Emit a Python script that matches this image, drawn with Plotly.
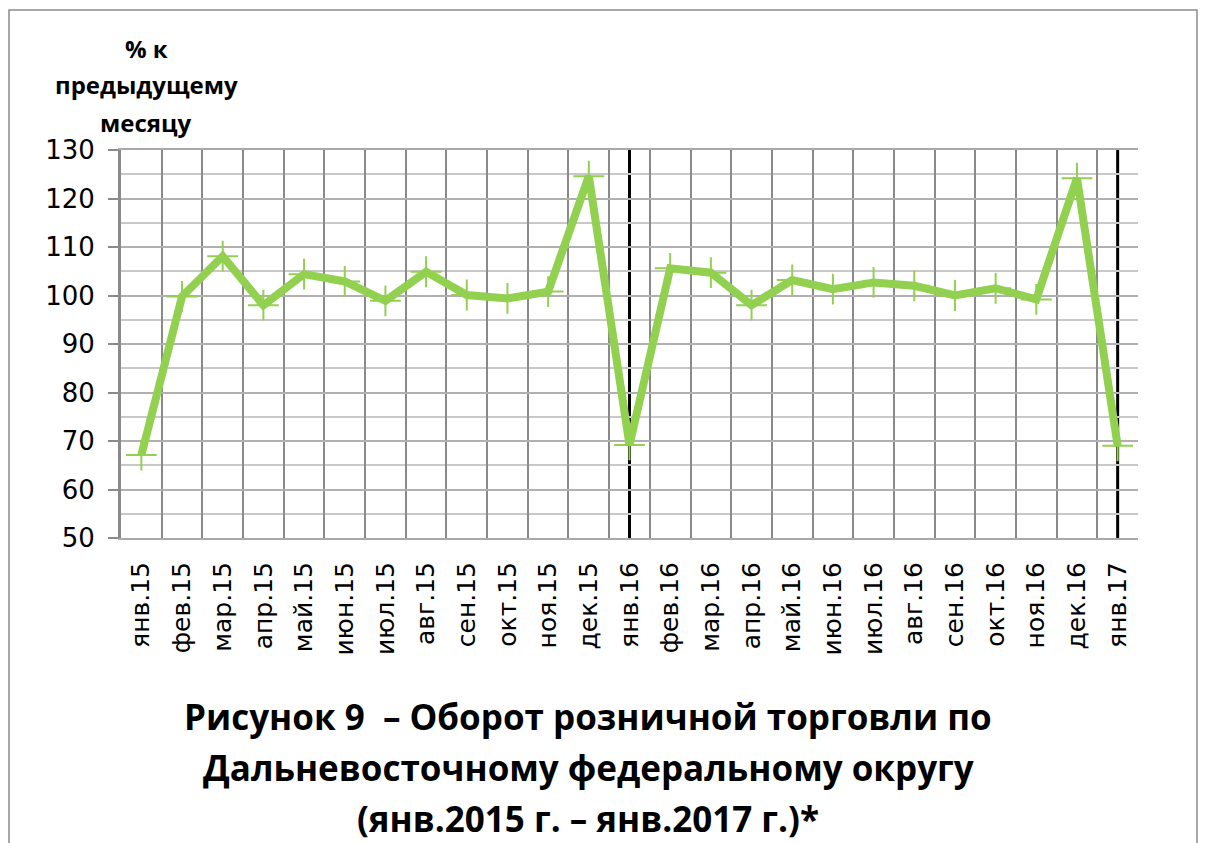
import plotly.graph_objects as go

categories = ["янв.15", "фев.15", "мар.15", "апр.15", "май.15", "июн.15", "июл.15",
              "авг.15", "сен.15", "окт.15", "ноя.15", "дек.15", "янв.16", "фев.16",
              "мар.16", "апр.16", "май.16", "июн.16", "июл.16", "авг.16", "сен.16",
              "окт.16", "ноя.16", "дек.16", "янв.17"]
values = [67.1, 99.8, 108.1, 98.0, 104.4, 102.9, 98.9, 104.9, 100.1, 99.4, 100.8,
          124.6, 69.2, 105.6, 104.7, 98.0, 103.2, 101.3, 102.7, 102.0, 100.0, 101.5,
          99.2, 124.2, 69.0]
year_marks = ["янв.16", "янв.17"]
y_title_lines = ["% к", "предыдущему", "месяцу"]
caption_lines = ["Рисунок 9  – Оборот розничной торговли по",
                 "Дальневосточному федеральному округу",
                 "(янв.2015 г. – янв.2017 г.)*"]

GREEN = "#92D050"
L, R, T, B = 121, 1138, 150, 538
W, H = 1208, 843


def px_x(px):
    return (px - L) / (R - L)


def px_y(py):
    return (B - py) / (B - T)


fig = go.Figure()
fig.add_trace(go.Scatter(
    x=categories, y=values, mode="lines+markers",
    line=dict(color=GREEN, width=8),
    marker=dict(symbol="cross-thin", size=22, color=GREEN,
                line=dict(color=GREEN, width=2)),
    cliponaxis=False, showlegend=False))

shapes = []
for m in year_marks:
    idx = categories.index(m)
    shapes.append(dict(type="line", xref="x", yref="paper", x0=idx, x1=idx,
                       y0=0, y1=1, line=dict(color="black", width=3), layer="below"))
# outer border
shapes.append(dict(type="rect", xref="paper", yref="paper",
                   x0=px_x(9), x1=px_x(1197), y0=px_y(850), y1=px_y(10),
                   line=dict(color="#8c8c8c", width=1.5), layer="below"))

annotations = []
for i, t in enumerate(y_title_lines):
    annotations.append(dict(text="<b>" + t + "</b>", xref="paper", yref="paper",
                            x=px_x(146), y=px_y(48 + i * 37), showarrow=False,
                            xanchor="center", yanchor="middle",
                            font=dict(family="Open Sans", size=24, color="black")))
for i, t in enumerate(caption_lines):
    annotations.append(dict(text="<b>" + t + "</b>", xref="paper", yref="paper",
                            x=px_x(588), y=px_y(716 + i * 51), showarrow=False,
                            xanchor="center", yanchor="middle",
                            font=dict(family="Open Sans", size=35, color="black")))

fig.update_layout(
    width=W, height=H,
    margin=dict(l=L, r=W - R, t=T, b=H - B, pad=0),
    paper_bgcolor="white", plot_bgcolor="white",
    shapes=shapes, annotations=annotations,
    font=dict(family="DejaVu Sans", color="black"),
)
fig.update_xaxes(
    type="category", range=[-0.5, len(categories) - 0.5],
    tickson="boundaries", showgrid=True, gridcolor="#8a8a8a", gridwidth=1.5,
    ticks="", tickangle=-90, tickfont=dict(size=25, family="DejaVu Sans"),
    ticklabelstandoff=12,
    showline=True, linecolor="#a8a8a8", linewidth=2, mirror=True,
)
fig.update_yaxes(
    range=[50, 130], dtick=10, tick0=50,
    showgrid=True, gridcolor="#b0b0b0", gridwidth=1.5,
    minor=dict(dtick=5, showgrid=True, gridcolor="#c8c8c8", gridwidth=1.5),
    ticks="outside", ticklen=10, tickwidth=2, tickcolor="#8a8a8a",
    tickfont=dict(size=26, family="DejaVu Sans"), ticklabelstandoff=8,
    showline=True, linecolor="#8a8a8a", linewidth=3, zeroline=False,
)

fig.write_html("out.html", config={"displayModeBar": False},
               post_script="document.body.style.margin='0';document.body.style.overflow='hidden';")
